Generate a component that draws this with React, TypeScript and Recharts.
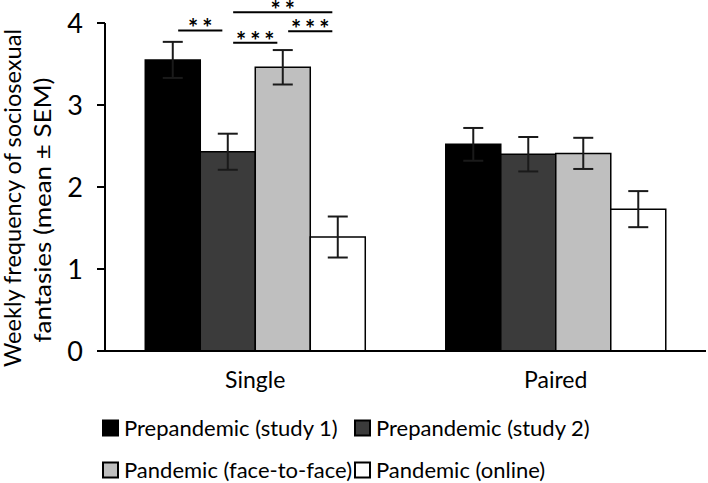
import React from 'react';
import {
  BarChart,
  Bar,
  XAxis,
  YAxis,
  ErrorBar,
  Legend,
  ReferenceLine,
} from 'recharts';

// Relationship status groups on the x axis
const categories = ['Single', 'Paired'];

// Series names
const seriesNames = [
  'Prepandemic (study 1)',
  'Prepandemic (study 2)',
  'Pandemic (face-to-face)',
  'Pandemic (online)',
];

// Means and SEMs per series (Single, Paired)
const study1Mean = [3.55, 2.52];
const study1Sem = [0.22, 0.2];
const study2Mean = [2.43, 2.4];
const study2Sem = [0.22, 0.21];
const faceMean = [3.46, 2.41];
const faceSem = [0.21, 0.19];
const onlineMean = [1.39, 1.73];
const onlineSem = [0.25, 0.22];

const yTicks = [0, 1, 2, 3, 4];

// Pairwise comparisons within the Single group: bar indices, stars, bracket height
const comparisons = [
  { from: 0, to: 1, stars: '**', level: 3.91 },
  { from: 1, to: 2, stars: '***', level: 3.76 },
  { from: 1, to: 3, stars: '**', level: 4.13 },
  { from: 2, to: 3, stars: '***', level: 3.9 },
];

const seriesFill = ['#000000', '#3b3b3b', '#bfbfbf', '#ffffff'];
const FONT = 'Lato, "Open Sans", sans-serif';
const CATEGORY_GAP = 0.134;

const data = categories.map((name, i) => ({
  name,
  s1: study1Mean[i],
  s1e: study1Sem[i],
  s2: study2Mean[i],
  s2e: study2Sem[i],
  s3: faceMean[i],
  s3e: faceSem[i],
  s4: onlineMean[i],
  s4e: onlineSem[i],
}));

const seriesKeys = [
  ['s1', 's1e'],
  ['s2', 's2e'],
  ['s3', 's3e'],
  ['s4', 's4e'],
];

// Centre of bar i inside category c, as a fraction of one category band
const barWidthUnits = (1 - 2 * CATEGORY_GAP) / seriesKeys.length;
const barCenter = (c: number, i: number) =>
  c + 0.5 + (i - (seriesKeys.length - 1) / 2) * barWidthUnits;
const INSET = 0.018;

// Draws a significance bracket on a horizontal reference line spanning the plot;
// x1/x2 are the plot edges, y1 is the bracket height from the y scale.
const BracketShape = (from: number, to: number, stars: string) => (props: any) => {
  const { x1, y1, x2 } = props;
  if (x1 == null || x2 == null) return null;
  const band = (x2 - x1) / categories.length;
  const a = x1 + band * (barCenter(0, from) + INSET);
  const b = x1 + band * (barCenter(0, to) - INSET);
  return (
    <g>
      <line x1={a} y1={y1} x2={b} y2={y1} stroke="#000" strokeWidth={2} />
      <text
        x={(a + b) / 2 + 2}
        y={y1 + 7}
        textAnchor="middle"
        fontFamily={FONT}
        fontSize={24}
        fontWeight={700}
        letterSpacing={4}
        fill="#000"
      >
        {stars}
      </text>
    </g>
  );
};

const YLabel = () => (
  <g fontFamily={FONT} fontSize={23} fill="#000">
    <text
      x={21}
      y={198}
      textAnchor="middle"
      textLength={338}
      lengthAdjust="spacingAndGlyphs"
      transform="rotate(-90 21 198)"
    >
      Weekly frequency of sociosexual
    </text>
    <text
      x={51}
      y={210}
      textAnchor="middle"
      textLength={265}
      lengthAdjust="spacingAndGlyphs"
      transform="rotate(-90 51 210)"
    >
      fantasies (mean ± SEM)
    </text>
  </g>
);

// Two-column legend grid drawn below the axis
const LegendGrid = () => {
  const squareX = [103, 355];
  const rowY = [37, 79];
  return (
    <svg width={708} height={92} style={{ display: 'block' }}>
      {seriesNames.map((name, i) => {
        const sx = squareX[i % 2];
        const cy = rowY[Math.floor(i / 2)];
        return (
          <g key={name}>
            <rect
              x={sx}
              y={cy - 7.5}
              width={15}
              height={15}
              fill={seriesFill[i]}
              stroke="#000"
              strokeWidth={2}
            />
            <text
              x={sx + 21}
              y={cy + 7.5}
              fontFamily={FONT}
              fontSize={22}
              fill="#000"
            >
              {name}
            </text>
          </g>
        );
      })}
    </svg>
  );
};

export default function App() {
  return (
    <div style={{ position: 'absolute', left: 0, top: 0, background: '#fff' }}>
      <BarChart
        width={708}
        height={483}
        data={data}
        margin={{ top: 23, right: 2, bottom: 0, left: 0 }}
        barCategoryGap={`${CATEGORY_GAP * 100}%`}
        barGap={0}
      >
        <XAxis
          dataKey="name"
          axisLine={{ stroke: '#000', strokeWidth: 2 }}
          tickLine={false}
          tickSize={0}
          tickMargin={21}
          height={40}
          tick={{ fill: '#000', fontSize: 23, fontFamily: FONT }}
        />
        <YAxis
          domain={[0, 4]}
          ticks={yTicks}
          width={105}
          axisLine={{ stroke: '#000', strokeWidth: 2 }}
          tickLine={{ stroke: '#000', strokeWidth: 2 }}
          tickSize={8}
          tickMargin={14}
          tick={{ fill: '#000', fontSize: 27, fontFamily: FONT }}
          label={{ content: YLabel }}
        />
        {seriesKeys.map(([k, e], i) => (
          <Bar
            key={k}
            dataKey={k}
            name={seriesNames[i]}
            fill={seriesFill[i]}
            stroke="#000"
            strokeWidth={1.5}
            isAnimationActive={false}
          >
            <ErrorBar dataKey={e} width={10} stroke="#1a1a1a" strokeWidth={2} />
          </Bar>
        ))}
        {comparisons.map((c, i) => (
          <ReferenceLine
            key={i}
            y={c.level}
            ifOverflow="visible"
            shape={BracketShape(c.from, c.to, c.stars)}
          />
        ))}
        <Legend
          verticalAlign="bottom"
          content={LegendGrid}
          wrapperStyle={{ left: 0, width: 708, height: 92 }}
        />
      </BarChart>
    </div>
  );
}
